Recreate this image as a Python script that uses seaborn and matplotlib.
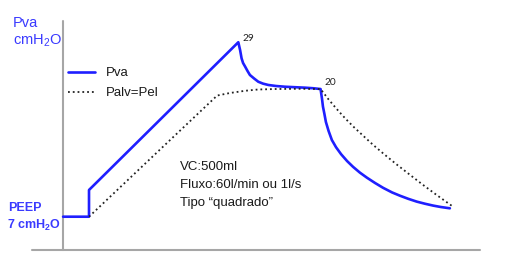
import matplotlib
matplotlib.use("Agg")
import matplotlib.pyplot as plt
import seaborn as sns
import pandas as pd

# ---- data (time in s, pressure in cmH2O) ----
t_pva = [-0.087, 0.0, 0.0, 0.501, 0.507, 0.512, 0.517, 0.524, 0.532, 0.540, 0.554, 0.568,
         0.584, 0.602, 0.628, 0.658, 0.691, 0.725, 0.752,
         0.777, 0.779, 0.782, 0.785, 0.790, 0.795, 0.804, 0.815, 0.829, 0.846, 0.866,
         0.886, 0.909, 0.933, 0.960, 0.987, 1.017, 1.044, 1.071, 1.100, 1.128, 1.155,
         1.181, 1.211]
p_pva = [7.0, 7.0, 10.37, 29.0, 28.02, 26.97, 26.38, 25.92, 25.37, 24.87, 24.43, 24.02,
         23.78, 23.61, 23.48, 23.39, 23.33, 23.27, 23.20,
         23.10, 22.60, 21.84, 20.90, 19.95, 18.94, 17.81, 16.67, 15.76, 14.88, 14.02,
         13.29, 12.56, 11.91, 11.25, 10.64, 10.06, 9.64, 9.26, 8.90, 8.63, 8.40,
         8.22, 8.06]

t_palv = [0.0, 0.430, 0.473, 0.524, 0.567, 0.624, 0.708, 0.777, 0.789, 0.802, 0.819,
          0.839, 0.862, 0.889, 0.920, 0.953, 0.990, 1.030, 1.074, 1.117, 1.164, 1.222]
p_palv = [7.0, 22.28, 22.60, 22.88, 23.04, 23.10, 23.13, 23.10, 22.52, 21.88, 21.12,
          20.25, 19.31, 18.29, 17.21, 16.07, 14.89, 13.66, 12.37, 11.12, 9.81, 8.25]

series_names = ["Pva", "Palv=Pel"]
peak_label = "29"
plateau_label = "20"
peak_t, peak_p = 0.501, 29.0
plateau_t, plateau_p = 0.777, 23.10
info_lines = ["VC:500ml", "Fluxo:60l/min ou 1l/s", "Tipo \u201cquadrado\u201d"]

df_pva = pd.DataFrame({"t": t_pva, "p": p_pva})
df_palv = pd.DataFrame({"t": t_palv, "p": p_palv})

sns.set_theme(style="white")
plt.rcParams["font.family"] = ["Liberation Sans", "DejaVu Sans"]
plt.rcParams["mathtext.fontset"] = "custom"
plt.rcParams["mathtext.rm"] = "Liberation Sans"
plt.rcParams["mathtext.it"] = "Liberation Sans:italic"
plt.rcParams["mathtext.bf"] = "Liberation Sans:bold"

W, H = 507, 261
fig = plt.figure(figsize=(W / 100, H / 100), dpi=100)
ax = fig.add_axes([0, 0, 1, 1])
ax.set_xlim(-0.2987, 1.4027)
ax.set_ylim(1.414, 34.327)
ax.axis("off")

BLUE = "#1f1fff"
LABEL_BLUE = "#3a3aff"
GRAY = "#a6a6a6"

# axes lines
ax.axvline(-0.087, ymin=(H - 250) / H, ymax=(H - 21) / H, color=GRAY, lw=1.5)
ax.axhline(2.80, xmin=32 / W, xmax=480 / W, color=GRAY, lw=1.5)

sns.lineplot(data=df_pva, x="t", y="p", sort=False, estimator=None, ax=ax,
             color=BLUE, lw=1.9, label=series_names[0])
sns.lineplot(data=df_palv, x="t", y="p", sort=False, estimator=None, ax=ax,
             color="#222222", lw=1.3, linestyle=":", label=series_names[1])

leg = ax.legend(loc="upper left", bbox_to_anchor=(68 / W, 1 - 67 / H),
                bbox_transform=fig.transFigure, frameon=False, fontsize=9.5,
                handlelength=2.05, handletextpad=0.85, labelspacing=0.6,
                borderpad=0, borderaxespad=0)
for txt in leg.get_texts():
    txt.set_color("#1a1a1a")

ax.annotate(peak_label, xy=(peak_t, peak_p), xytext=(2.7, 1), textcoords="offset points",
            fontsize=7.3, color="#222222", ha="left", va="baseline", family=["Lato", "DejaVu Sans"])
ax.annotate(plateau_label, xy=(plateau_t, plateau_p), xytext=(2.5, 3), textcoords="offset points",
            fontsize=7.3, color="#222222", ha="left", va="baseline", family=["Lato", "DejaVu Sans"])

def ftext(x, y, s, **kw):
    fig.text(x / W, 1 - y / H, s, va="baseline", ha="left", **kw)

ftext(12.7, 26.7, "Pva", color=LABEL_BLUE, fontsize=10.5)
ftext(12.7, 44.5, "cmH$_2$O", color=LABEL_BLUE, fontsize=10.5)
ftext(8.3, 210.7, "PEEP", color=LABEL_BLUE, fontsize=9, fontweight="bold")
ftext(7.3, 229, r"7 cmH$_\mathbf{2}$O", color=LABEL_BLUE, fontsize=9, fontweight="bold")

for i, line in enumerate(info_lines):
    ftext(180, 169.5 + 18.3 * i, line, color="#1a1a1a", fontsize=9.5)

fig.savefig("out.png", dpi=100)
